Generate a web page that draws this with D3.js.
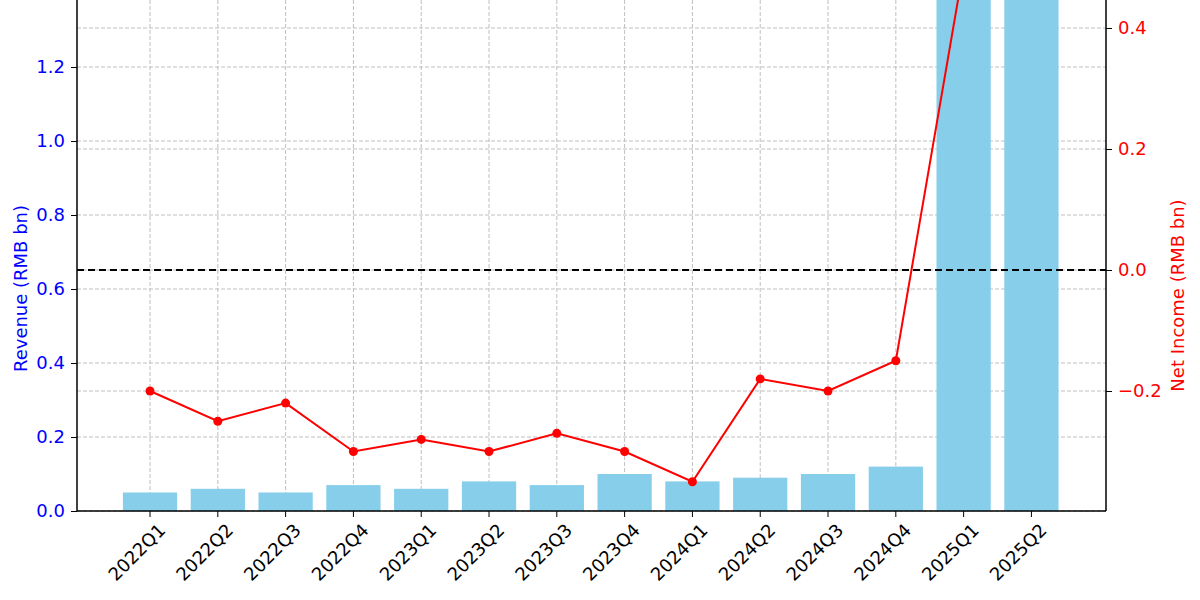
<!DOCTYPE html>
<html>
<head>
<meta charset="utf-8">
<script src="https://cdn.jsdelivr.net/npm/d3@7"></script>
<style>
body { margin: 0; background: #fff; }
text { font-family: "DejaVu Sans", sans-serif; }
</style>
</head>
<body>
<svg id="chart" width="1200" height="600"></svg>
<script>
const quarters = ['2022Q1','2022Q2','2022Q3','2022Q4','2023Q1','2023Q2','2023Q3','2023Q4',
    '2024Q1','2024Q2','2024Q3','2024Q4','2025Q1','2025Q2'];
const revenue = [0.05, 0.06, 0.05, 0.07, 0.06, 0.08, 0.07, 0.10, 0.08, 0.09, 0.10, 0.12, 1.9, 1.9];
const netIncome = [-0.20, -0.25, -0.22, -0.30, -0.28, -0.30, -0.27, -0.30, -0.35, -0.18, -0.20, -0.15, 0.50, 0.60];
const revTicks = [0, 0.2, 0.4, 0.6, 0.8, 1.0, 1.2, 1.4];
const niTicks = [-0.2, 0, 0.2, 0.4];

const left = 77, right = 1106, bottom = 511;
const svg = d3.select('#chart');

const x = d3.scaleLinear().domain([-1.077, 14.1]).range([left, right]);
const step = x(1) - x(0);
const y = d3.scaleLinear().domain([0, 1.4]).range([bottom, bottom - 1.4 * 370]);
const y2 = d3.scaleLinear().domain([0, 0.4]).range([270, 270 - 0.4 * 605]);

const grid = svg.append('g')
    .attr('stroke', '#b8b8b8').attr('stroke-dasharray', '4,2').attr('stroke-width', 0.9);
grid.selectAll('.vx').data(quarters).enter().append('line')
    .attr('x1', (d, i) => x(i)).attr('x2', (d, i) => x(i))
    .attr('y1', 0).attr('y2', bottom);
grid.selectAll('.hy').data(revTicks).enter().append('line')
    .attr('x1', left).attr('x2', right).attr('y1', d => y(d)).attr('y2', d => y(d));
grid.selectAll('.hy2').data(niTicks).enter().append('line')
    .attr('x1', left).attr('x2', right).attr('y1', d => y2(d)).attr('y2', d => y2(d));

// revenue bars
svg.append('g').selectAll('rect').data(revenue).enter().append('rect')
    .attr('x', (d, i) => x(i) - step * 0.4)
    .attr('width', step * 0.8)
    .attr('y', d => y(d))
    .attr('height', d => bottom - y(d))
    .attr('fill', '#87ceeb');

// zero line for net income
svg.append('line')
    .attr('x1', left).attr('x2', right).attr('y1', y2(0)).attr('y2', y2(0))
    .attr('stroke', '#000').attr('stroke-width', 2).attr('stroke-dasharray', '7,4');

const line = d3.line().x((d, i) => x(i)).y(d => y2(d));
svg.append('path').datum(netIncome)
    .attr('d', line).attr('fill', 'none').attr('stroke', 'red').attr('stroke-width', 2);
svg.append('g').selectAll('circle').data(netIncome).enter().append('circle')
    .attr('cx', (d, i) => x(i)).attr('cy', d => y2(d)).attr('r', 4.5).attr('fill', 'red');

// axes
const yAxis = svg.append('g').attr('transform', `translate(${left},0)`)
    .call(d3.axisLeft(y).tickValues(revTicks).tickFormat(d3.format('.1f')).tickSize(6).tickPadding(6));
yAxis.select('.domain').attr('stroke', '#000').attr('stroke-width', 1.5).attr('d', `M-0,0V${bottom}`);
yAxis.selectAll('.tick line').attr('stroke', '#000');
yAxis.selectAll('.tick text').attr('fill', 'blue').style('font-size', '18px');

const y2Axis = svg.append('g').attr('transform', `translate(${right},0)`)
    .call(d3.axisRight(y2).tickValues(niTicks).tickFormat(d => d3.format('.1f')(d).replace('-', '\u2212')).tickSize(6).tickPadding(6));
y2Axis.select('.domain').attr('stroke', '#000').attr('stroke-width', 1.5).attr('d', `M0,0V${bottom}`);
y2Axis.selectAll('.tick line').attr('stroke', '#000');
y2Axis.selectAll('.tick text').attr('fill', 'red').style('font-size', '18px');

svg.append('line').attr('x1', left).attr('x2', right).attr('y1', bottom).attr('y2', bottom)
    .attr('stroke', '#000').attr('stroke-width', 1.5);

const xt = svg.append('g').selectAll('g').data(quarters).enter().append('g')
    .attr('transform', (d, i) => `translate(${x(i)},${bottom})`);
xt.append('line').attr('y2', 6).attr('stroke', '#000');
xt.append('text')
    .attr('transform', 'translate(12,16) rotate(-45)')
    .attr('text-anchor', 'end')
    .attr('dy', '0.35em')
    .style('font-size', '18px')
    .text(d => d);

svg.append('text')
    .attr('transform', `translate(27,${bottom / 2 + 33}) rotate(-90)`)
    .attr('text-anchor', 'middle').attr('fill', 'blue').style('font-size', '18px')
    .text('Revenue (RMB bn)');
svg.append('text')
    .attr('transform', `translate(1184,${bottom / 2 + 40}) rotate(-90)`)
    .attr('text-anchor', 'middle').attr('fill', 'red').style('font-size', '18px')
    .text('Net Income (RMB bn)');
</script>
</body>
</html>
